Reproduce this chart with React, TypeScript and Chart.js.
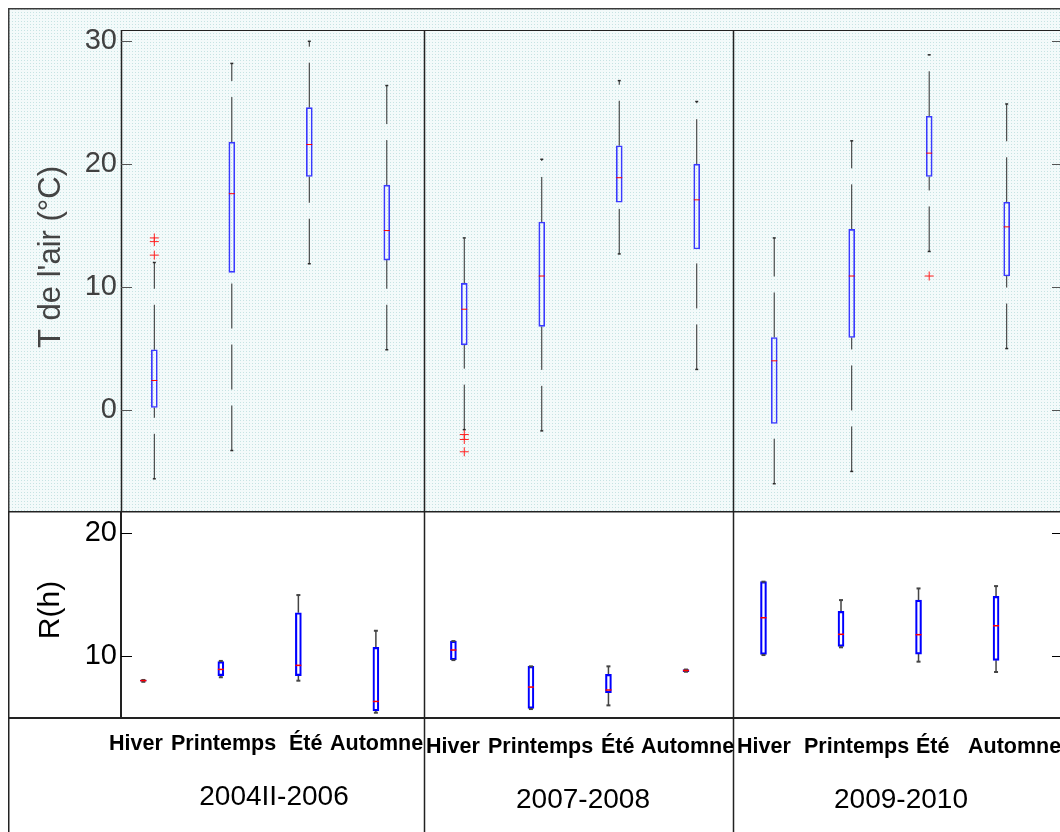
import React, { useEffect, useRef } from "react";
import { Chart, registerables } from "chart.js";

Chart.register(...registerables);

// ---------- data ----------
const SEASONS = ["Hiver", "Printemps", "Été", "Automne"];
const PERIODS = ["2004II-2006", "2007-2008", "2009-2010"];
const POSITIONS = [1, 2, 3, 4, 5, 6, 7, 8, 9, 10, 11, 12];

// Air temperature (°C)
const T_MIN = [-5.6, -3.3, 11.9, 4.9, -1.6, -1.7, 12.7, 3.3, -6.0, -5.0, 12.9, 5.0];
const T_Q1 = [0.2, 11.2, 19.0, 12.2, 5.3, 6.8, 16.9, 13.1, -1.1, 5.9, 19.0, 10.9];
const T_MED = [2.4, 17.6, 21.6, 14.6, 8.2, 10.9, 18.9, 17.1, 4.0, 10.9, 20.9, 14.9];
const T_Q3 = [4.9, 21.8, 24.6, 18.3, 10.3, 15.3, 21.5, 20.0, 5.9, 14.7, 23.9, 16.9];
const T_MAX = [12.0, 28.2, 30.0, 26.4, 14.0, 20.4, 26.8, 25.1, 14.0, 21.9, 28.9, 24.9];
const T_OUT = [[14.0, 13.7, 12.6], [], [], [], [-2.0, -2.4, -3.4], [], [], [], [], [], [10.9], []];
const T_TICKS = [0, 10, 20, 30];

// R (h)
const R_MIN = [7.9, 8.27, 7.99, 5.38, 9.67, 5.68, 5.98, 8.72, 10.08, 10.71, 9.54, 8.7];
const R_Q1 = [7.95, 8.4, 8.4, 5.54, 9.7, 5.73, 7.01, 8.72, 10.14, 10.79, 10.16, 9.65];
const R_MED = [8.0, 8.91, 9.24, 6.3, 10.49, 7.47, 7.23, 8.82, 13.12, 11.77, 11.74, 12.47];
const R_Q3 = [8.05, 9.54, 13.53, 10.7, 11.22, 9.16, 8.51, 8.9, 16.06, 13.64, 14.56, 14.86];
const R_MAX = [8.05, 9.6, 14.97, 12.06, 11.22, 9.16, 9.16, 8.9, 16.06, 14.56, 15.51, 15.7];
const R_TICKS = [10, 20];

// group boundaries (in each panel's own x units)
const SEP_TOP = [4.484, 8.472];
const SEP_BOT = [4.625, 8.611];

// ---------- layout ----------
const W = 1052;
const TOP_H = 503;
const BOT_H = 321;
const AXIS_W = 113;
const FONT = "'Liberation Sans', Arial, Helvetica, sans-serif";

// label placement (canvas coords of bottom canvas)
const WORD_X = [
  [101, 163, 281, 322],
  [418, 480, 593, 633],
  [729, 796, 908, 960],
];
const WORD_Y = [233, 236, 236];
const YEAR_X = [266, 575, 893];
const YEAR_Y = [286, 289, 289];

function seg(ctx: CanvasRenderingContext2D, x1: number, y1: number, x2: number, y2: number) {
  ctx.beginPath();
  ctx.moveTo(x1, y1);
  ctx.lineTo(x2, y2);
  ctx.stroke();
}

function makePattern(ctx: CanvasRenderingContext2D) {
  const c = document.createElement("canvas");
  c.width = 3;
  c.height = 3;
  const g = c.getContext("2d")!;
  g.fillStyle = "#f3fafa";
  g.fillRect(0, 0, 3, 3);
  g.fillStyle = "#c6e3e3";
  g.fillRect(1, 1, 1, 1);
  return ctx.createPattern(c, "repeat")!;
}

function buildDatasets(
  mn: number[], q1: number[], md: number[], q3: number[], mx: number[], out: number[][],
  s: { box: string; boxW: number; whisk: string; whiskW: number; dash: number[]; cap: number; medW: number }
) {
  const boxes = POSITIONS.map((p, i) => ({ x: p, y: [q1[i], q3[i]] }));
  const whisk: any[] = [];
  POSITIONS.forEach((p, i) => {
    whisk.push({ x: p, y: mn[i] }, { x: p, y: q1[i] }, { x: p, y: null });
    whisk.push({ x: p, y: q3[i] }, { x: p, y: mx[i] }, { x: p, y: null });
  });
  const caps = POSITIONS.flatMap((p, i) => [{ x: p, y: mn[i] }, { x: p, y: mx[i] }]);
  const meds = POSITIONS.map((p, i) => ({ x: p, y: md[i] }));
  const outs = POSITIONS.flatMap((p, i) => out[i].map((v) => ({ x: p, y: v })));
  return [
    {
      type: "line" as const,
      data: whisk,
      borderColor: s.whisk,
      borderWidth: s.whiskW,
      borderDash: s.dash,
      pointRadius: 0,
      spanGaps: false,
      fill: false,
      tension: 0,
      order: 5,
    },
    {
      type: "bar" as const,
      data: boxes,
      backgroundColor: "rgba(255,255,255,0)",
      borderColor: s.box,
      borderWidth: s.boxW,
      borderSkipped: false,
      barThickness: 6,
      order: 4,
    },
    {
      type: "scatter" as const,
      data: caps,
      pointStyle: "line",
      pointRadius: s.cap,
      pointBorderColor: s.whisk,
      pointBorderWidth: s.whiskW + 0.5,
      pointBackgroundColor: s.whisk,
      order: 3,
    },
    {
      type: "scatter" as const,
      data: meds,
      pointStyle: "line",
      pointRadius: 3,
      pointBorderColor: "#ff0000",
      pointBorderWidth: s.medW,
      order: 1,
    },
    {
      type: "scatter" as const,
      data: outs,
      pointStyle: "cross",
      pointRadius: 4.5,
      pointBorderColor: "#ff2020",
      pointBorderWidth: 1,
      order: 1,
    },
  ];
}

const topFrame = {
  id: "topFrame",
  beforeDraw(chart: any) {
    const { ctx, width, height } = chart;
    ctx.save();
    ctx.fillStyle = makePattern(ctx);
    ctx.fillRect(0, 0, width, height);
    ctx.restore();
  },
  afterDraw(chart: any) {
    const { ctx, chartArea: a, width, height, scales } = chart;
    ctx.save();
    ctx.strokeStyle = "#3a3a3a";
    ctx.lineWidth = 1.5;
    seg(ctx, 0, 0.75, width, 0.75);
    seg(ctx, 0.75, 0, 0.75, height);
    ctx.strokeStyle = "#222";
    ctx.lineWidth = 1;
    seg(ctx, a.left, a.top + 0.5, width, a.top + 0.5);
    ctx.lineWidth = 1.5;
    seg(ctx, a.left + 0.5, a.top, a.left + 0.5, height);
    SEP_TOP.forEach((v) => {
      const x = Math.round(scales.x.getPixelForValue(v)) + 0.5;
      seg(ctx, x, a.top, x, height);
    });
    ctx.strokeStyle = "#555";
    ctx.lineWidth = 1;
    T_TICKS.forEach((v) => {
      const y = Math.round(scales.y.getPixelForValue(v)) + 0.5;
      seg(ctx, a.left, y, a.left + 11, y);
      seg(ctx, a.right - 8, y, a.right, y);
    });
    ctx.translate(43, 249);
    ctx.rotate(-Math.PI / 2);
    ctx.fillStyle = "#444";
    ctx.font = `31px ${FONT}`;
    ctx.textAlign = "center";
    ctx.textBaseline = "middle";
    ctx.fillText("T de l'air (°C)", 0, 0);
    ctx.restore();
  },
};

const botFrame = {
  id: "botFrame",
  afterDraw(chart: any) {
    const { ctx, chartArea: a, width, height, scales } = chart;
    ctx.save();
    ctx.strokeStyle = "#222";
    ctx.lineWidth = 1.5;
    seg(ctx, 0.75, 0, 0.75, height);
    seg(ctx, 0, 0.75, width, 0.75);
    ctx.lineWidth = 2;
    seg(ctx, a.left, 0, a.left, a.bottom);
    seg(ctx, 0, a.bottom, width, a.bottom);
    ctx.lineWidth = 1.5;
    SEP_BOT.forEach((v) => {
      const x = Math.round(scales.x.getPixelForValue(v)) + 0.5;
      seg(ctx, x, 0, x, height);
    });
    ctx.strokeStyle = "#000";
    ctx.lineWidth = 1;
    R_TICKS.forEach((v) => {
      const y = Math.round(scales.y.getPixelForValue(v)) + 0.5;
      seg(ctx, a.left, y, a.left + 11, y);
      seg(ctx, a.right - 8, y, a.right, y);
    });
    ctx.fillStyle = "#000";
    ctx.textBaseline = "middle";
    // category labels
    ctx.font = `bold 21.5px ${FONT}`;
    ctx.textAlign = "left";
    PERIODS.forEach((_, g) => {
      SEASONS.forEach((s, k) => {
        ctx.fillText(s, WORD_X[g][k], WORD_Y[g]);
      });
    });
    // period labels
    ctx.font = `28px ${FONT}`;
    ctx.textAlign = "center";
    PERIODS.forEach((p, g) => ctx.fillText(p, YEAR_X[g], YEAR_Y[g]));
    // y title
    ctx.translate(43, 99);
    ctx.rotate(-Math.PI / 2);
    ctx.font = `30px ${FONT}`;
    ctx.fillText("R(h)", 0, 0);
    ctx.restore();
  },
};

function yScale(min: number, max: number, ticks: number[], color: string) {
  return {
    type: "linear" as const,
    position: "left" as const,
    min,
    max,
    afterFit(s: any) {
      s.width = AXIS_W;
      s.paddingTop = 0;
      s.paddingBottom = 0;
    },
    afterBuildTicks(s: any) {
      s.ticks = ticks.map((v) => ({ value: v }));
    },
    grid: { display: false, drawTicks: false },
    border: { display: false },
    ticks: {
      padding: 4,
      color,
      font: { family: FONT, size: 29 },
      callback: (v: any) => String(v),
    },
  };
}

export default function App() {
  const topRef = useRef<HTMLCanvasElement>(null);
  const botRef = useRef<HTMLCanvasElement>(null);

  useEffect(() => {
    document.documentElement.style.overflow = "hidden";
    const common = {
      animation: false as const,
      responsive: false,
      maintainAspectRatio: false,
      devicePixelRatio: 1,
      events: [] as any[],
      plugins: { legend: { display: false }, tooltip: { enabled: false } },
    };

    const top = new Chart(topRef.current!, {
      type: "bar",
      data: {
        datasets: buildDatasets(T_MIN, T_Q1, T_MED, T_Q3, T_MAX, T_OUT, {
          box: "#3a3aff",
          boxW: 1,
          whisk: "#2a2a2a",
          whiskW: 1,
          dash: [45, 16],
          cap: 1.5,
          medW: 1,
        }) as any,
      },
      options: {
        ...common,
        layout: { autoPadding: false, padding: { top: 22, right: 0, bottom: 0, left: 0 } },
        scales: {
          x: { type: "linear", min: 0.57, max: 12.688, display: false, offset: false, grid: { display: false } },
          y: yScale(-8.22, 30.92, T_TICKS, "#404040") as any,
        },
      } as any,
      plugins: [topFrame],
    });

    const bot = new Chart(botRef.current!, {
      type: "bar",
      data: {
        datasets: buildDatasets(R_MIN, R_Q1, R_MED, R_Q3, R_MAX, POSITIONS.map(() => []), {
          box: "#0000ff",
          boxW: 1.5,
          whisk: "#444",
          whiskW: 1.5,
          dash: [],
          cap: 2,
          medW: 1.5,
        }) as any,
      },
      options: {
        ...common,
        layout: { autoPadding: false, padding: { top: 0, right: 0, bottom: 114, left: 0 } },
        scales: {
          x: { type: "linear", min: 0.712, max: 12.825, display: false, offset: false, grid: { display: false } },
          y: yScale(4.95, 21.82, R_TICKS, "#000") as any,
        },
      } as any,
      plugins: [botFrame],
    });

    return () => {
      top.destroy();
      bot.destroy();
    };
  }, []);

  return (
    <div style={{ position: "fixed", left: 8, top: 8, width: W, height: TOP_H + BOT_H }}>
      <canvas
        ref={topRef}
        width={W}
        height={TOP_H}
        style={{ position: "absolute", left: 0, top: 0, display: "block" }}
      />
      <canvas
        ref={botRef}
        width={W}
        height={BOT_H}
        style={{ position: "absolute", left: 0, top: TOP_H, display: "block" }}
      />
    </div>
  );
}
